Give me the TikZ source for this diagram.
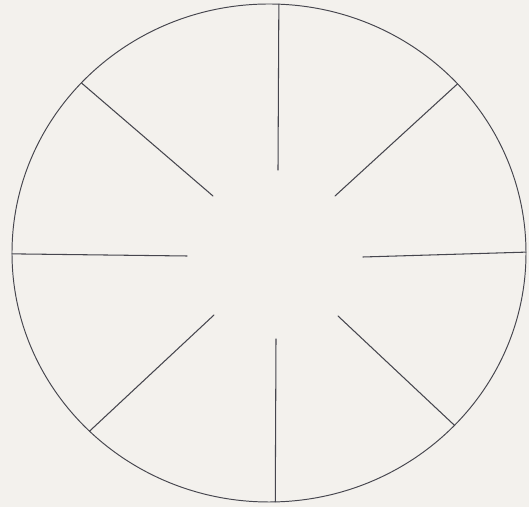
\documentclass[tikz,border=0pt]{standalone}
\usepackage{tikz}
\usetikzlibrary{calc}
\usepackage{xcolor}
\definecolor{paper}{RGB}{243,241,237}
\definecolor{pencil}{RGB}{70,70,78}

\begin{document}
\begin{tikzpicture}[
  x=0.02cm, y=0.02cm,
  rim/.style={draw=pencil, line width=0.55pt},
  spoke/.style={draw=pencil, line width=0.6pt, line cap=round}
]
  % Fondo (papel)
  \fill[paper] (0,0) rectangle (529,507);
  \useasboundingbox (0,0) rectangle (529,507);

  % Circulo exterior
  \coordinate (ctr) at (269,254);
  \draw[rim] (ctr) ellipse [x radius=257, y radius=249];

  % Radios: del borde hacia el centro
  \foreach \ang/\ix/\iy [count=\i] in {87.8/278/337, 42.8/335/311, 0.2/363/250, 316.2/338/191,
                                      271.4/276/168, 225.7/214/192, 180.2/187/251, 136.9/213/311} {
    \coordinate (out\i) at ($(ctr)+(\ang:257 and 249)$);
    \coordinate (in\i) at (\ix,\iy);
    \draw[spoke] (out\i) -- (in\i);
  }
\end{tikzpicture}
\end{document}
